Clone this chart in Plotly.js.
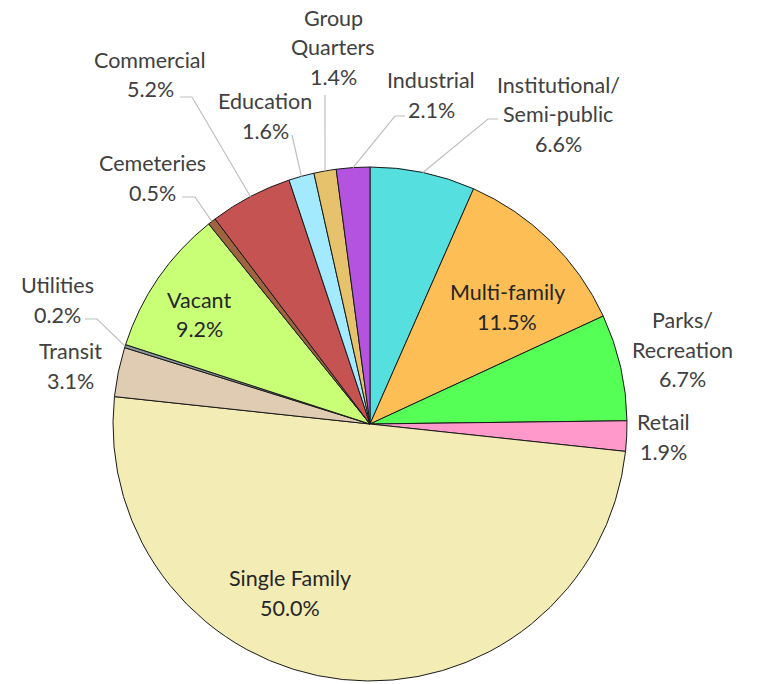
<!DOCTYPE html>
<html>
<head>
<meta charset="utf-8">
<script src="https://cdn.plot.ly/plotly-3.0.1.min.js"></script>
<style>html,body{margin:0;padding:0;background:#fff;}#chart{width:759px;height:684px;}</style>
</head>
<body>
<div id="chart"></div>
<script>
// ---- data ----
const categories = ["Institutional/ Semi-public", "Multi-family", "Parks/ Recreation", "Retail",
  "Single Family", "Transit", "Utilities", "Vacant", "Cemeteries", "Commercial",
  "Education", "Group Quarters", "Industrial"];
const shares = [6.6, 11.5, 6.7, 1.9, 50.0, 3.1, 0.2, 9.2, 0.5, 5.2, 1.6, 1.4, 2.1];
const labelLines = [["Institutional/", "Semi-public"], ["Multi-family"], ["Parks/", "Recreation"], ["Retail"],
  ["Single Family"], ["Transit"], ["Utilities"], ["Vacant"], ["Cemeteries"], ["Commercial"],
  ["Education"], ["Group", "Quarters"], ["Industrial"]];
const sliceColors = ["#55dfdf", "#fdbf55", "#55ff55", "#ff99cc", "#f3ecb4", "#e0ccb3", "#8a979c",
  "#c9ff77", "#a0633f", "#c45352", "#a3e9ff", "#e6c26c", "#b453e0"];

// ---- layout (pixels) ----
const W = 759, H = 684;
const CX = 370, CY = 424, R = 257;
// label block: centre x, centre y of first line
const labelPos = [[558, 85], [507, 292], [682, 320], [663, 422], [290, 578], [70, 351], [57, 285],
  [199, 300], [152, 163], [150, 60], [265, 101], [333, 18], [431, 80]];
const insideSet = [false, true, false, false, true, false, false, true, false, false, false, false, false];
// leader line points from the label side (pie edge end is computed from the slice)
const leaders = {
  0: [[498, 119], [488, 119]],
  6: [[85, 319], [97, 319]],
  8: [[182, 197], [195, 197]],
  9: [[180, 97], [192, 97]],
  10: [[292, 135]],
  11: [[325, 95]],
  12: [[405, 116], [395, 116]]
};
const LINE = 29.5;

const px = x => x / W, py = y => 1 - y / H;

const annotations = [];
const shapes = [];
const total = shares.reduce((a, b) => a + b, 0);
let cum = 0;
shares.forEach((v, i) => {
  const mid = (cum + v / 2) / total * 2 * Math.PI;
  cum += v;
  const lines = labelLines[i].concat([v.toFixed(1) + "%"]);
  const [lx, ly] = labelPos[i];
  lines.forEach((t, k) => {
    annotations.push({
      xref: "paper", yref: "paper", x: px(lx), y: py(ly + k * LINE),
      xanchor: "center", yanchor: "middle", showarrow: false, text: t,
      font: {family: "Lato, 'Open Sans', sans-serif", size: 21.5, color: insideSet[i] ? "#262626" : "#404040"}
    });
  });
  if (leaders[i]) {
    const ex = CX + R * Math.sin(mid), ey = CY - R * Math.cos(mid);
    const pts = leaders[i].concat([[ex, ey]]);
    const path = pts.map((p, k) => (k ? "L" : "M") + px(p[0]) + "," + py(p[1])).join(" ");
    shapes.push({type: "path", xref: "paper", yref: "paper", path: path,
      line: {color: "#bfbfbf", width: 1.2}});
  }
});

const trace = {
  type: "pie",
  labels: categories,
  values: shares,
  sort: false,
  direction: "clockwise",
  rotation: 0,
  textinfo: "none",
  hoverinfo: "label+percent",
  marker: {colors: sliceColors, line: {color: "#1a1a1a", width: 1}},
  domain: {x: [px(CX - R), px(CX + R)], y: [py(CY + R), py(CY - R)]}
};

Plotly.newPlot("chart", [trace], {
  width: W, height: H,
  margin: {l: 0, r: 0, t: 0, b: 0},
  paper_bgcolor: "#ffffff",
  showlegend: false,
  annotations: annotations,
  shapes: shapes
}, {displayModeBar: false, staticPlot: true});
</script>
</body>
</html>
